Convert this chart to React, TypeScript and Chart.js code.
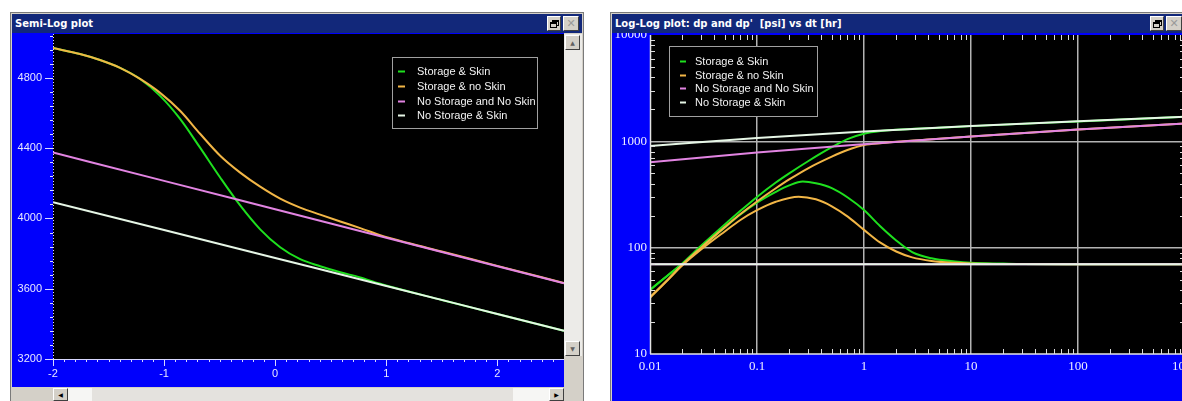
import React, { useEffect, useRef } from 'react';
import { Chart, registerables } from 'chart.js';

Chart.register(...registerables);

// ---------------- Semi-Log plot : x = log10(dt [hr]), y = pressure [psi] ----------------
const semiXTicks = [-2, -1, 0, 1, 2];
const semiYTicks = [3200, 3600, 4000, 4400, 4800];

const semiStorageSkinX = [-2.0, -1.757, -1.577, -1.396, -1.216, -1.036, -0.856, -0.676, -0.495, -0.315, -0.135, 0.045, 0.225, 0.405, 0.586, 0.766, 0.946, 1.5, 2.0, 2.6];
const semiStorageSkinP = [4970, 4936, 4902, 4857, 4794, 4698, 4567, 4403, 4233, 4074, 3938, 3836, 3768, 3728, 3694, 3664, 3628, 3536, 3456, 3360];

const semiStorageNoSkinX = [-2.0, -1.757, -1.577, -1.396, -1.216, -1.036, -0.856, -0.676, -0.495, -0.315, -0.135, 0.045, 0.225, 0.405, 0.586, 0.766, 0.946, 1.2, 1.5, 2.0, 2.6];
const semiStorageNoSkinP = [4970, 4936, 4902, 4857, 4794, 4715, 4613, 4482, 4357, 4261, 4181, 4113, 4062, 4022, 3983, 3945, 3905, 3860, 3812, 3730, 3633];

const semiNoStorageNoSkinX = [-2, -1, 0, 1, 2, 2.6];
const semiNoStorageNoSkinP = [4375, 4214, 4052, 3890, 3728, 3631];

const semiNoStorageSkinX = [-2, -1, 0, 1, 2, 2.6];
const semiNoStorageSkinP = [4093, 3934, 3775, 3616, 3456, 3360];

// ---------------- Log-Log plot : dp and dp' [psi] vs dt [hr] ----------------
const llXTicks = [0.01, 0.1, 1, 10, 100, 1000];
const llYTicks = [10, 100, 1000, 10000];

const llStorageSkinT = [0.01, 0.015, 0.02, 0.03, 0.05, 0.07, 0.1, 0.15, 0.2, 0.3, 0.5, 0.7, 1, 1.5, 2, 5, 10, 100, 1000];
const llStorageSkinDp = [40, 56, 71, 104, 165, 222, 300, 410, 500, 650, 880, 1050, 1180, 1255, 1285, 1340, 1390, 1540, 1705];
const llStorageSkinDerT = [0.01, 0.015, 0.02, 0.03, 0.05, 0.07, 0.1, 0.15, 0.2, 0.268, 0.355, 0.5, 0.71, 1, 1.41, 2.0, 2.82, 4.27, 7.1, 10, 20, 30, 100, 1000];
const llStorageSkinDer = [40, 56, 70, 100, 155, 205, 265, 335, 385, 418, 403, 363, 295, 226, 160, 117, 91, 79.4, 74, 72, 70.8, 70.2, 70, 70];

const llStorageNoSkinT = [0.01, 0.015, 0.02, 0.03, 0.05, 0.07, 0.1, 0.15, 0.2, 0.3, 0.5, 0.7, 1, 1.5, 2, 5, 10, 100, 1000];
const llStorageNoSkinDp = [34, 51, 69, 100, 156, 207, 272, 362, 438, 558, 718, 828, 925, 965, 990, 1055, 1110, 1290, 1470];
const llStorageNoSkinDerT = [0.01, 0.015, 0.02, 0.03, 0.05, 0.07, 0.1, 0.15, 0.245, 0.355, 0.5, 0.71, 1, 1.41, 2.0, 2.82, 4.27, 7.1, 10, 30, 100, 1000];
const llStorageNoSkinDer = [34, 51, 68, 96, 142, 182, 225, 270, 302, 285, 245, 195, 147, 112, 92, 81, 75, 72, 71, 70.2, 70, 70];

const llNoStorageNoSkinT = [0.01, 0.1, 1, 10, 100, 1000];
const llNoStorageNoSkinDp = [635, 785, 940, 1110, 1290, 1470];
const llNoStorageNoSkinDer = [70, 70, 70, 70, 70, 70];

const llNoStorageSkinT = [0.01, 0.1, 1, 10, 100, 1000];
const llNoStorageSkinDp = [905, 1075, 1235, 1395, 1545, 1705];
const llNoStorageSkinDer = [70, 70, 70, 70, 70, 70];

const seriesNames = ['Storage & Skin', 'Storage & no Skin', 'No Storage and No Skin', 'No Storage & Skin'];
const seriesColors = ['#1ee01e', '#f2b646', '#e284e2', '#e6f6e6'];

// ---------------- helpers ----------------
const pts = (xs: number[], ys: number[]) => xs.map((x, i) => ({ x, y: ys[i] }));

const BLUE = '#0000fc';
const NAVY = '#12287a';

const plotBgPlugin = {
  id: 'plotBg',
  beforeDraw(chart: any) {
    const { ctx, chartArea: a } = chart;
    ctx.save();
    ctx.fillStyle = '#000';
    ctx.fillRect(a.left, a.top, a.right - a.left, a.bottom - a.top);
    ctx.restore();
  },
};

const boxLegendPlugin = {
  id: 'boxLegend',
  afterDraw(chart: any, _args: any, o: any) {
    const ctx = chart.ctx;
    const items = chart.data.datasets.filter((d: any) => d.inLegend);
    ctx.save();
    ctx.fillStyle = '#000';
    ctx.fillRect(o.x, o.y, o.w, o.h);
    ctx.strokeStyle = '#a0a0a0';
    ctx.lineWidth = 1;
    ctx.strokeRect(o.x + 0.5, o.y + 0.5, o.w - 1, o.h - 1);
    ctx.font = o.font;
    ctx.textBaseline = 'middle';
    ctx.textAlign = 'left';
    items.forEach((d: any, i: number) => {
      const cy = Math.round(o.y + o.firstRow + i * o.rowGap) + 0.5;
      ctx.strokeStyle = d.borderColor;
      ctx.lineWidth = 2;
      ctx.beginPath();
      ctx.moveTo(o.x + o.markX, cy);
      ctx.lineTo(o.x + o.markX + o.markW, cy);
      ctx.stroke();
      ctx.fillStyle = '#f2f2f2';
      ctx.fillText(d.label, o.x + o.textX, cy);
    });
    ctx.restore();
  },
};

const semiAxisPlugin = {
  id: 'semiAxis',
  afterDraw(chart: any) {
    const { ctx, chartArea: a, scales } = chart;
    const x = scales.x;
    const y = scales.y;
    ctx.save();
    ctx.strokeStyle = '#d8d8ff';
    ctx.lineWidth = 1;
    ctx.beginPath();
    ctx.moveTo(a.left, a.bottom + 0.5);
    ctx.lineTo(a.right, a.bottom + 0.5);
    ctx.stroke();
    for (let i = 0; i <= 46; i++) {
      const v = x.min + i * 0.1;
      const px = Math.round(x.getPixelForValue(v)) + 0.5;
      const len = i % 10 === 0 ? 7 : 3;
      ctx.beginPath();
      ctx.moveTo(px, a.bottom);
      ctx.lineTo(px, a.bottom + len);
      ctx.stroke();
    }
    for (let v = y.min; v <= y.max; v += 80) {
      const py = Math.round(y.getPixelForValue(v)) + 0.5;
      const major = (v - 3200) % 400 === 0;
      ctx.beginPath();
      ctx.moveTo(a.left, py);
      ctx.lineTo(a.left - (major ? 8 : 3), py);
      ctx.stroke();
    }
    ctx.setLineDash([1, 2]);
    ctx.beginPath();
    ctx.moveTo(a.left + 0.5, a.top);
    ctx.lineTo(a.left + 0.5, a.bottom);
    ctx.stroke();
    ctx.restore();
  },
};

const logAxisPlugin = {
  id: 'logAxis',
  afterDraw(chart: any) {
    const { ctx, chartArea: a, scales } = chart;
    const x = scales.x;
    const y = scales.y;
    ctx.save();
    ctx.strokeStyle = '#dcdcdc';
    ctx.lineWidth = 1;
    const len = 5;
    for (let d = 0.01; d < 1000; d *= 10) {
      for (let k = 2; k <= 9; k++) {
        const px = Math.round(x.getPixelForValue(d * k)) + 0.5;
        ctx.beginPath();
        ctx.moveTo(px, a.bottom);
        ctx.lineTo(px, a.bottom - len);
        ctx.moveTo(px, a.top);
        ctx.lineTo(px, a.top + len);
        ctx.stroke();
      }
    }
    for (let d = 10; d < 10000; d *= 10) {
      for (let k = 2; k <= 9; k++) {
        const py = Math.round(y.getPixelForValue(d * k)) + 0.5;
        ctx.beginPath();
        ctx.moveTo(a.left, py);
        ctx.lineTo(a.left + len, py);
        ctx.moveTo(a.right, py);
        ctx.lineTo(a.right - len, py);
        ctx.stroke();
      }
    }
    ctx.lineWidth = 1.5;
    ctx.strokeStyle = '#e4e4e4';
    ctx.beginPath();
    ctx.moveTo(a.left + 0.5, a.top);
    ctx.lineTo(a.left + 0.5, a.bottom);
    ctx.moveTo(a.left, a.bottom);
    ctx.lineTo(a.right, a.bottom);
    ctx.stroke();
    ctx.restore();
  },
};

function SemiLogChart() {
  const ref = useRef<HTMLCanvasElement>(null);
  useEffect(() => {
    const mk = (i: number, xs: number[], ys: number[], order: number) => ({
      label: seriesNames[i],
      data: pts(xs, ys),
      borderColor: seriesColors[i],
      backgroundColor: seriesColors[i],
      borderWidth: 2,
      pointRadius: 0,
      tension: 0.4,
      cubicInterpolationMode: 'monotone',
      fill: false,
      order,
      inLegend: true,
    });
    const tickFont = { family: '"Liberation Sans", Arial, sans-serif', size: 11 };
    const chart = new Chart(ref.current as HTMLCanvasElement, {
      type: 'line',
      data: {
        datasets: [
          mk(0, semiStorageSkinX, semiStorageSkinP, 3),
          mk(1, semiStorageNoSkinX, semiStorageNoSkinP, 2),
          mk(2, semiNoStorageNoSkinX, semiNoStorageNoSkinP, 1),
          mk(3, semiNoStorageSkinX, semiNoStorageSkinP, 0),
        ] as any,
      },
      options: {
        animation: false,
        responsive: false,
        maintainAspectRatio: false,
        layout: { padding: { top: 0, left: 0, right: 0, bottom: 0 } },
        plugins: {
          legend: { display: false },
          tooltip: { enabled: false },
          boxLegend: {
            x: 380, y: 23, w: 146, h: 72,
            markX: 6, markW: 7, textX: 25, firstRow: 14, rowGap: 14.8,
            font: '11px "Liberation Sans", Arial, sans-serif',
          },
        } as any,
        scales: {
          x: {
            type: 'linear',
            min: -2,
            max: 2.6,
            afterBuildTicks: (s: any) => { s.ticks = semiXTicks.map((v) => ({ value: v })); },
            afterFit: (s: any) => { s.height = 28; s.paddingLeft = 0; s.paddingRight = 0; },
            grid: { display: false, drawTicks: false },
            border: { display: false },
            ticks: {
              color: '#e8e8ff', font: tickFont, padding: 8, maxRotation: 0, autoSkip: false,
              callback: (v: any) => String(v),
            },
          },
          y: {
            type: 'linear',
            min: 3200,
            max: 5050,
            afterBuildTicks: (s: any) => { s.ticks = semiYTicks.map((v) => ({ value: v })); },
            afterFit: (s: any) => { s.width = 41; s.paddingTop = 0; s.paddingBottom = 0; },
            grid: { display: false, drawTicks: false },
            border: { display: false },
            ticks: {
              color: '#e8e8ff', font: tickFont, padding: 11, autoSkip: false,
              callback: (v: any) => String(v),
            },
          },
        },
      } as any,
      plugins: [plotBgPlugin, semiAxisPlugin, boxLegendPlugin] as any,
    });
    return () => chart.destroy();
  }, []);
  return <canvas ref={ref} width={552} height={353} style={{ display: 'block', width: 552, height: 353 }} />;
}

function LogLogChart() {
  const ref = useRef<HTMLCanvasElement>(null);
  useEffect(() => {
    const mk = (i: number, xs: number[], ys: number[], order: number, inLegend: boolean) => ({
      label: seriesNames[i],
      data: pts(xs, ys),
      borderColor: seriesColors[i],
      backgroundColor: seriesColors[i],
      borderWidth: 2,
      pointRadius: 0,
      tension: 0.4,
      cubicInterpolationMode: 'monotone',
      fill: false,
      order,
      inLegend,
    });
    const tickFont = { family: '"Liberation Serif", "Times New Roman", serif', size: 13 };
    const chart = new Chart(ref.current as HTMLCanvasElement, {
      type: 'line',
      data: {
        datasets: [
          mk(0, llStorageSkinT, llStorageSkinDp, 7, true),
          mk(1, llStorageNoSkinT, llStorageNoSkinDp, 5, true),
          mk(2, llNoStorageNoSkinT, llNoStorageNoSkinDp, 3, true),
          mk(3, llNoStorageSkinT, llNoStorageSkinDp, 1, true),
          mk(0, llStorageSkinDerT, llStorageSkinDer, 6, false),
          mk(1, llStorageNoSkinDerT, llStorageNoSkinDer, 4, false),
          mk(2, llNoStorageNoSkinT, llNoStorageNoSkinDer, 2, false),
          mk(3, llNoStorageSkinT, llNoStorageSkinDer, 0, false),
        ] as any,
      },
      options: {
        animation: false,
        responsive: false,
        maintainAspectRatio: false,
        layout: { padding: { top: 2, left: 0, right: 17, bottom: 0 } },
        plugins: {
          legend: { display: false },
          tooltip: { enabled: false },
          boxLegend: {
            x: 57, y: 13, w: 149, h: 71,
            markX: 11, markW: 6, textX: 26, firstRow: 15, rowGap: 13.7,
            font: '11px "Liberation Sans", Arial, sans-serif',
          },
        } as any,
        scales: {
          x: {
            type: 'logarithmic',
            min: 0.01,
            max: 1000,
            afterBuildTicks: (s: any) => { s.ticks = llXTicks.map((v) => ({ value: v })); },
            afterFit: (s: any) => { s.height = 47; s.paddingLeft = 0; s.paddingRight = 0; },
            grid: {
              display: true, drawTicks: false, drawOnChartArea: true, lineWidth: 1.5,
              color: (c: any) => (c.tick && (c.tick.value === 0.01 || c.tick.value === 1000) ? 'rgba(0,0,0,0)' : '#b4b4b4'),
            },
            border: { display: false },
            ticks: {
              color: '#eeeeff', font: tickFont, padding: 5, maxRotation: 0, autoSkip: false,
              callback: (v: any) => String(v),
            },
          },
          y: {
            type: 'logarithmic',
            min: 10,
            max: 10000,
            afterBuildTicks: (s: any) => { s.ticks = llYTicks.map((v) => ({ value: v })); },
            afterFit: (s: any) => { s.width = 38; s.paddingTop = 0; s.paddingBottom = 0; },
            grid: {
              display: true, drawTicks: false, drawOnChartArea: true, lineWidth: 1.5,
              color: (c: any) => (c.tick && (c.tick.value === 10 || c.tick.value === 10000) ? 'rgba(0,0,0,0)' : '#b4b4b4'),
            },
            border: { display: false },
            ticks: {
              color: '#eeeeff', font: tickFont, padding: 3, autoSkip: false,
              callback: (v: any) => String(v),
            },
          },
        },
      } as any,
      plugins: [plotBgPlugin, logAxisPlugin, boxLegendPlugin] as any,
    });
    return () => chart.destroy();
  }, []);
  return <canvas ref={ref} width={590} height={368} style={{ display: 'block', width: 590, height: 368 }} />;
}

const abs = (l: number, t: number, w: number, h: number, extra: any = {}) => ({
  position: 'absolute' as const, left: l, top: t, width: w, height: h, boxSizing: 'border-box' as const, ...extra,
});

function Btn({ l, t, w, h, children }: any) {
  return (
    <div style={abs(l, t, w, h, {
      background: '#d4d0c8', borderTop: '1px solid #ffffff', borderLeft: '1px solid #ffffff',
      borderRight: '1px solid #404040', borderBottom: '1px solid #404040',
      display: 'flex', alignItems: 'center', justifyContent: 'center',
      fontFamily: '"DejaVu Sans", sans-serif', fontSize: 9, color: '#000', lineHeight: 1,
    })}>{children}</div>
  );
}

function RestoreIcon() {
  return (
    <div style={{ position: 'relative', width: 9, height: 8 }}>
      <div style={abs(2, 0, 7, 6, { border: '1px solid #000', borderTopWidth: 2 })} />
      <div style={abs(0, 2, 7, 6, { border: '1px solid #000', borderTopWidth: 2, background: '#d4d0c8' })} />
    </div>
  );
}

function TitleBar({ l, w, text }: any) {
  return (
    <div style={abs(l, 14, w, 19, {
      background: NAVY, color: '#fff', fontFamily: '"DejaVu Sans", Verdana, sans-serif',
      fontWeight: 'bold', fontSize: 10, lineHeight: '19px', paddingLeft: 3, whiteSpace: 'pre', overflow: 'hidden',
    })}>{text}</div>
  );
}

export default function App() {
  return (
    <div style={{ position: 'fixed', left: 0, top: 0, width: 1182, height: 401, overflow: 'hidden', background: '#ffffff' }}>
      {/* ---------- left window ---------- */}
      <div style={abs(10, 12, 574, 400, { background: '#d4d0c8', border: '1px solid #7a7a7a' })} />
      <TitleBar l={12} w={570} text="Semi-Log plot" />
      <Btn l={547} t={16} w={14} h={15}><RestoreIcon /></Btn>
      <Btn l={563} t={16} w={16} h={15}><span style={{ color: '#9a9a9a', fontSize: 11 }}>✕</span></Btn>
      <div style={abs(12, 33, 552, 354, { background: BLUE })} />
      <div style={abs(12, 34, 552, 353)}><SemiLogChart /></div>
      {/* vertical scrollbar */}
      <div style={abs(564, 34, 18, 322, { background: '#ecebe8' })} />
      <Btn l={565} t={35} w={15} h={15}><span style={{ fontSize: 6, color: '#606060' }}>▲</span></Btn>
      <Btn l={565} t={341} w={15} h={15}><span style={{ fontSize: 6, color: '#606060' }}>▼</span></Btn>
      <div style={abs(564, 356, 18, 31, { background: '#d4d0c8' })} />
      {/* horizontal scrollbar */}
      <div style={abs(12, 387, 552, 14, { background: '#d4d0c8' })} />
      <div style={abs(68, 388, 482, 13, { background: '#e4e2de' })} />
      <div style={abs(68, 388, 24, 13, { background: '#f6f6f4' })} />
      <div style={abs(513, 388, 37, 13, { background: '#f6f6f4' })} />
      <Btn l={53} t={388} w={15} h={13}><span style={{ fontSize: 6 }}>◀</span></Btn>
      <Btn l={549} t={388} w={15} h={13}><span style={{ fontSize: 6 }}>▶</span></Btn>

      {/* ---------- right window ---------- */}
      <div style={abs(610, 12, 600, 400, { background: '#d4d0c8', border: '1px solid #7a7a7a' })} />
      <TitleBar l={612} w={600} text="Log-Log plot: dp and dp'  [psi] vs dt [hr]" />
      <Btn l={1150} t={16} w={14} h={15}><RestoreIcon /></Btn>
      <Btn l={1166} t={16} w={16} h={15}><span style={{ color: '#9a9a9a', fontSize: 11 }}>✕</span></Btn>
      <div style={abs(612, 33, 600, 368, { background: BLUE })} />
      <div style={abs(612, 33, 590, 368)}><LogLogChart /></div>
    </div>
  );
}
